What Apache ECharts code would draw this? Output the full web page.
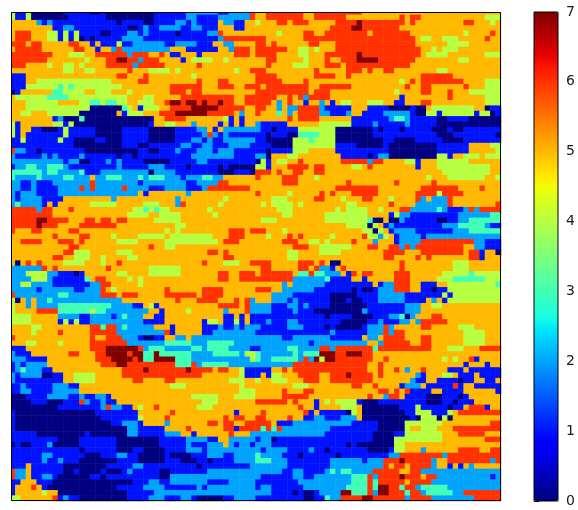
<!DOCTYPE html>
<html><head><meta charset="utf-8">
<script src="https://cdn.jsdelivr.net/npm/echarts@6/dist/echarts.min.js"></script>
<style>html,body{margin:0;padding:0;background:#fff}#c{width:578px;height:510px}</style></head>
<body><div id="c"></div>
<script>
// Each token: first digit = cell value, remaining digits = run length.
const rowsLeft = [
"41 12 41 06 15 02 11 09 16 26 12 24 61",
"41 12 41 07 17 09 16 22 14 22 24 61",
"55 21 11 21 112 01 14 02 14 22 11 21 14 51 22 12 53",
"58 12 22 110 02 11 21 12 24 12 22 13 53 12 54",
"51 63 53 42 11 41 11 41 14 02 13 22 11 21 15 01 13 12 22 61 56",
"51 63 53 42 11 41 11 41 01 11 01 15 24 114 21 66",
"63 51 62 55 62 52 11 51 13 41 12 26 12 24 13 52 22 52",
"51 65 56 62 52 11 52 21 61 29 51 52 11 15 52 21 63 51",
"66 62 53 43 52 66 21 63 52 61 51 12 53 11 56 63 51",
"67 57 41 53 62 72 62 21 63 54 11 51 44 52 41 55",
"63 54 41 52 42 51 41 54 65 21 65 56 61 510",
"510 42 52 42 56 61 53 44 51 41 510 41 52 61 52",
"13 517 62 53 61 58 41 511",
"13 52 414 55 62 59 61 53 62 55",
"13 46 31 41 31 49 59 66 53 63 52 63",
"01 11 56 32 44 52 43 53 41 57 63 51 62 510",
"51 46 34 411 53 42 55 610 52 62",
"53 46 54 42 32 41 32 42 52 43 52 61 72 61 72 61 71 62 71 62 52 61",
"53 412 06 31 41 51 11 43 52 64 75 65 52",
"52 42 53 46 07 51 11 43 53 63 72 74 65 51 21 51",
"58 11 21 03 31 013 52 64 57 41 11 51 11 52",
"41 11 56 42 11 41 014 11 52 42 53 21 54 11 51 11 51 11 52",
"41 11 52 12 03 11 41 15 05 15 05 14 22 51 11 51 21 25",
"41 11 51 17 41 15 05 15 05 15 21 61 21 11 21 12",
"12 41 16 41 12 04 12 03 15 05 13 22 11 21 12 26",
"112 09 13 02 16 22 12 22 13 24 13",
"61 22 12 01 18 010 12 02 13 21 13 23 11 23 14",
"21 15 21 11 21 14 21 16 01 12 01 110 28 14",
"210 11 22 02 13 21 11 21 14 05 15 22 19",
"11 22 32 22 33 21 19 21 15 23 14 01 15 01 11 05",
"36 21 32 24 31 13 29 01 24 18 03 13 02 41",
"31 24 31 24 32 23 51 22 33 23 31 21 33 23 11 23 32 22 56",
"22 12 21 13 27 61 28 11 28 12 24 62 55",
"22 12 21 14 24 61 21 61 25 61 24 13 24 13 21 68 51 61",
"21 11 23 14 215 51 11 57 21 513",
"21 11 24 13 11 59 21 511 21 58 41 55",
"21 31 24 11 51 11 56 45 55 43 53 21 61 56 41 56",
"65 21 62 53 61 511 42 31 41 31 42 57 41 58",
"68 514 44 52 44 56 41 57",
"65 72 64 53 62 51 62 51 62 55 45 514",
"65 71 63 54 67 511 42 513",
"61 53 62 55 62 516 41 51 41 59 63 51 61",
"58 61 54 62 54 41 54 45 51 48 53 63 52",
"52 64 53 63 51 61 56 44 55 49 41 51 63 51",
"511 62 513 61 52 42 516",
"510 62 43 55 43 514 62 51 61 53",
"58 62 52 43 52 41 54 42 516 62 54",
"51 01 51 61 51 61 54 44 53 41 52 61 515 61 53 43 52 61",
"26 61 51 61 59 61 57 46 514",
"23 44 22 12 11 01 11 56 42 54 46 57 62 52 63",
"24 43 21 16 31 51 62 54 41 51 41 514 62 52 63",
"22 42 24 17 22 62 55 41 521",
"25 11 26 12 23 61 51 41 59 61 56 64 55",
"61 28 32 26 63 51 63 55 66 51 64 56",
"41 01 51 21 51 22 31 213 53 57 61 53 64 53 61 51 61 21",
"41 52 21 51 24 310 24 12 51 41 11 511 64 51 61 21",
"41 54 64 36 41 32 28 52 11 54 41 56 21 53 61 21",
"44 55 24 12 24 11 21 31 23 52 12 511 12 51 11 51 11",
"44 55 11 41 11 41 12 210 14 57 11 42 51 12 41 11 51 11",
"54 42 59 62 31 62 21 31 25 53 11 55 13 21 12 21 11 21",
"54 41 54 61 55 65 29 61 11 55 12 28",
"61 514 61 52 63 23 11 02 12 52 22 51 212",
"53 42 54 41 55 67 27 35 23 35 24",
"13 512 63 76 61 21 33 25 32 21 34 24 11",
"21 13 57 62 53 62 74 61 72 32 71 36 24 35 21 41",
"23 14 59 63 74 61 71 32 74 33 211 41",
"11 21 11 24 510 63 72 69 33 61 21 35 26",
"11 21 31 23 12 513 64 71 67 71 64 51 62 52 41 12",
"21 11 24 02 12 52 44 55 615 57 41 12",
"21 19 52 44 57 62 54 62 510 43 52",
"12 21 15 23 12 517 43 510 41 52",
"12 22 14 25 530 43",
"03 14 24 12 21 12 22 11 515 42 43 53 44",
"04 13 03 13 61 21 12 21 12 516 43 57",
"09 18 21 61 22 12 51 41 52 61 57 43 57",
"11 015 18 56 61 511 11 53",
"11 016 17 41 54 61 510 61 51 62 52",
"11 018 12 23 11 54 21 57 62 51 62 52 61",
"11 021 22 15 54 61 56 62 11 63",
"15 09 11 07 22 15 23 52 11 56 61 53 21",
"19 04 17 08 15 24 12 52 26",
"01 11 02 13 21 05 17 08 15 21 13 23 51 21 11 22 11",
"113 01 16 03 12 04 14 23 11 29",
"16 22 16 03 13 22 12 05 11 04 13 23 12 24",
"16 21 12 21 13 07 14 05 13 03 12 01 14 24",
"13 51 16 08 15 22 110 01 19 21",
"61 22 51 16 02 11 04 11 03 11 21 15 02 17 29",
"61 22 51 12 22 11 06 12 01 110 02 216",
"12 53 13 015 13 22 12 27 14 26",
"11 53 61 51 11 013 15 24 16 21 11 29",
"11 55 41 52 013 15 219",
"42 56 61 11 21 12 09 14 23 13 22 11 05 12 24"
];
const rowsRight = [
"52 67 52 69 526",
"52 67 52 66 510 61 51 62 512 43",
"41 53 62 51 63 55 64 71 68 51 61 59 62 53 41 51",
"514 64 72 67 519",
"54 41 54 62 52 68 51 67 510 41 54 61 51",
"62 57 621 51 42 52 43 55 61 51",
"62 51 61 56 62 53 615 56 44 510",
"66 52 42 51 41 53 616 52 41 51 43 58",
"64 54 42 53 66 71 611 51 44 57 42",
"52 62 55 41 53 61 52 63 74 67 58 42 54",
"52 61 54 43 53 63 51 612 516",
"62 59 61 55 63 51 61 52 62 58 42 510",
"64 57 64 52 61 513 66 59",
"65 54 61 517 41 51 61 51 68 54 43",
"61 51 68 52 66 510 61 52 62 56 61 53 43",
"610 51 63 512 41 54 62 53 61 53 44",
"64 52 61 51 61 21 64 513 11 58 61 56 43",
"63 51 21 51 61 52 11 52 21 51 11 51 42 53 43 52 12 53 62 510 43",
"62 52 21 51 22 64 21 15 53 14 04 11 02 51 48 52 01 12",
"61 53 31 51 21 51 64 22 13 21 52 14 25 11 02 42 11 46 11 42 01 12",
"56 61 51 64 56 17 21 32 21 15 02 14 06",
"21 11 14 52 54 46 14 21 15 21 15 012",
"21 12 01 14 47 07 11 01 13 01 15 03 11 02 17",
"12 01 13 02 34 43 07 112 03 18 01",
"12 05 43 31 44 09 12 04 15 04 15",
"13 04 48 14 05 11 09 16 54 41",
"12 01 14 43 55 110 09 16 55 41",
"22 01 53 42 58 11 14 01 11 22 09 42 11 52 43 51 43",
"01 41 11 51 42 52 61 57 65 21 62 54 42 11 53 46 54",
"42 11 53 64 51 62 55 42 51 61 58 11 53 410 52",
"63 51 61 52 62 52 62 522 49 51",
"61 54 63 53 41 520 41 53 46 41 52 41",
"55 63 59 61 58 61 56 61 512",
"515 68 58 67 54 61 53",
"61 55 41 55 61 51 61 53 65 57 64 41 64 57",
"53 43 55 62 53 41 53 62 53 41 54 61 21 51 23 61 59",
"51 41 51 44 51 41 58 42 56 61 54 26 61 58 62",
"54 43 58 41 51 44 52 41 52 51 62 25 31 21 13 21 61 21 63",
"55 42 56 48 54 11 41 22 19 26 31",
"51 43 59 48 31 02 51 02 21 16 02 12 22 36",
"517 44 01 41 51 11 21 19 23 35 21 11",
"62 53 41 514 42 01 41 51 11 24 17 23 36",
"52 41 53 61 51 61 55 41 55 61 42 21 41 51 11 24 11 215",
"55 63 52 42 51 41 54 61 53 21 53 11 24 610 22 13",
"57 63 52 46 53 62 52 62 21 61 21 69 52 22 13",
"56 42 51 53 44 58 64 53 68 51 62 11 52 01",
"56 42 516 62 54 61 51 61 57 62 11 53",
"63 55 63 51 61 51 02 511 61 59 43 56",
"51 62 55 62 51 61 22 11 51 61 510 61 59 43 56",
"51 66 51 32 61 32 21 22 51 11 61 51 62 54 63 56 45 31 45",
"67 26 31 14 52 11 52 53 63 55 43 36 43",
"55 21 51 26 19 51 11 22 63 52 13 52 49 31",
"63 52 26 17 01 11 02 11 23 63 52 12 01 12 410",
"53 24 17 05 14 25 17 41 11 49",
"53 23 11 21 16 03 11 02 13 25 14 51 21 51 11 410",
"23 13 22 11 21 14 07 17 23 52 42 59",
"23 14 21 13 03 06 21 17 23 515",
"113 01 14 04 13 22 31 01 21 51 52 62 511",
"12 21 13 22 18 05 12 21 13 22 51 21 65 510",
"21 15 23 14 01 11 05 11 23 61 21 53 52 62 55 43 52",
"114 21 16 23 61 21 62 54 57 44 53",
"25 12 27 11 15 51 22 51 64 53 62 56 44 53",
"210 11 210 52 21 65 52 62 56 44 53",
"11 25 32 24 62 21 67 31 610 53 43 53 62",
"31 26 31 21 33 73 62 73 62 523",
"31 22 35 21 61 21 71 41 72 67 52 61 510 41 51 41 52 61 11 56",
"27 614 52 61 515 11 53 11 52",
"13 52 61 51 614 52 61 52 61 51 21 52 61 54 13 51 14",
"11 51 11 42 53 64 52 63 71 64 51 61 56 21 11 53 42 51 13 51 14",
"41 52 43 53 63 52 68 57 21 12 52 14 01 12 52 12 51 11",
"53 54 43 58 62 52 61 54 11 23 51 14 11 61 11 52 11",
"55 61 53 62 512 62 51 61 51 61 13 11 52 14 56 11",
"55 65 511 61 52 21 62 51 11 13 03 13 01 11 57",
"66 51 61 53 11 51 41 51 44 11 03 13 16 03 12 01 12 11 55",
"58 61 52 11 54 43 51 07 13 41 15 01 12 51 63 11 52",
"51 61 57 61 11 51 15 01 41 51 08 12 43 13 41 51 69",
"62 54 61 52 12 22 13 23 51 09 11 01 43 01 41 01 510",
"63 51 13 211 15 05 47 59 62",
"61 31 61 31 61 29 19 05 41 52 43 53 68 61",
"213 19 04 12 47 53 65 53",
"11 22 01 118 04 41 48 58 64",
"23 114 01 11 07 42 518",
"21 11 24 14 21 12 01 17 04 11 42 53 21 56 64 52 62",
"31 24 13 01 16 01 19 22 68 21 610",
"33 23 18 26 11 23 63 71 65 21 52 68 21 61",
"26 18 210 61 51 62 51 64 21 52 11 51 11 51 21 51",
"25 12 22 14 21 31 21 32 24 65 52 62 218",
"21 16 22 12 27 33 61 21 64 71 63 51 62 210 11 22",
"18 210 33 61 31 65 51 64 213",
"11 22 16 28 34 61 31 72 62 31 62 21 35 29",
"23 14 01 11 02 11 24 72 33 61 21 72 63 31 62 21 35 22 67",
"19 02 12 31 22 64 72 66 21 64 28 67"
];
const colorbarTicks = [0, 1, 2, 3, 4, 5, 6, 7];
const halfColumns = 46;

function decode(row) {
  const out = [];
  row.trim().split(/\s+/).forEach(t => {
    const v = +t[0], n = +t.slice(1);
    for (let i = 0; i < n; i++) out.push(v);
  });
  while (out.length < halfColumns) out.push(out[out.length - 1]);
  return out.slice(0, halfColumns);
}
const cells = [];
rowsLeft.forEach((l, r) => {
  decode(l).concat(decode(rowsRight[r])).forEach((v, c) => cells.push([c, r, v]));
});
const nCols = halfColumns * 2, nRows = rowsLeft.length;
const idx = n => Array.from({length: n}, (_, i) => i);

function seg(x, pts) {
  for (let i = 1; i < pts.length; i++) {
    if (x <= pts[i][0]) {
      const [a, va] = pts[i - 1], [b, vb] = pts[i];
      return va + (vb - va) * (x - a) / (b - a);
    }
  }
  return pts[pts.length - 1][1];
}
function jet(x) {
  const r = seg(x, [[0,0],[.35,0],[.66,1],[.89,1],[1,.5]]);
  const g = seg(x, [[0,0],[.125,0],[.375,1],[.64,1],[.91,0],[1,0]]);
  const b = seg(x, [[0,.5],[.11,1],[.34,1],[.65,0],[1,0]]);
  return 'rgb(' + [r, g, b].map(v => Math.round(v * 255)).join(',') + ')';
}
const palette = idx(141).map(i => jet(i / 140));

const chart = echarts.init(document.getElementById('c'), null, {renderer: 'canvas'});
chart.setOption({
  animation: false,
  backgroundColor: '#fff',
  grid: [
    {left: 10, top: 9.5, width: 491, height: 491.5, show: false},
    {left: 534, top: 12, width: 24, height: 489, show: true, z: 5, backgroundColor: 'transparent', borderColor: '#000', borderWidth: 1}
  ],
  xAxis: [
    {type: 'category', gridIndex: 0, data: idx(nCols), show: false},
    {type: 'value', gridIndex: 1, min: 0, max: 1, show: false}
  ],
  yAxis: [
    {type: 'category', gridIndex: 0, data: idx(nRows), inverse: true, show: false},
    {type: 'value', gridIndex: 1, min: colorbarTicks[0], max: colorbarTicks[colorbarTicks.length - 1], interval: 1,
     position: 'right', splitLine: {show: false},
     axisLine: {show: false},
     axisTick: {show: true, length: 5, lineStyle: {color: '#000', width: 1}},
     axisLabel: {color: '#1a1a1a', fontFamily: 'DejaVu Sans', fontSize: 14, margin: 8,
       formatter: v => String(v)}}
  ],
  visualMap: {
    type: 'continuous', min: 0, max: 7, seriesIndex: 0, show: true, calculable: false, hoverLink: false,
    left: 534, top: 12, itemWidth: 24, itemHeight: 489, padding: 0, text: null, showLabel: false,
    inRange: {color: palette}
  },
  // the frame is the image's edge: it trims the part-cells of the first row and column
  graphic: [
    {type: 'rect', z: 50, silent: true, shape: {x: 0, y: 0, width: 520, height: 12}, style: {fill: '#fff'}},
    {type: 'rect', z: 50, silent: true, shape: {x: 0, y: 0, width: 11, height: 510}, style: {fill: '#fff'}},
    {type: 'rect', z: 51, silent: true, shape: {x: 11.5, y: 12.5, width: 489, height: 488}, style: {fill: 'none', stroke: '#000', lineWidth: 1}}
  ],
  series: [{
    type: 'heatmap', xAxisIndex: 0, yAxisIndex: 0, data: cells, progressive: 0,
    itemStyle: {borderWidth: 0}, emphasis: {disabled: true}
  }]
});
</script></body></html>
